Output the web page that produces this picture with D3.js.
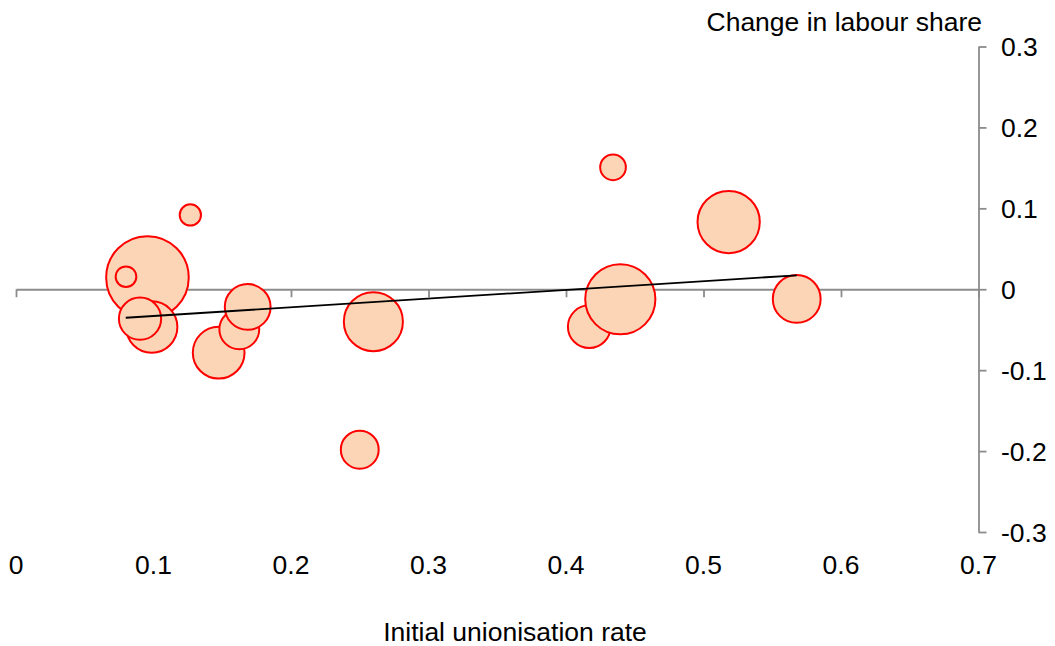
<!DOCTYPE html>
<html>
<head>
<meta charset="utf-8">
<script src="https://cdn.jsdelivr.net/npm/d3@7"></script>
<style>
  html, body { margin: 0; padding: 0; background: #fff; }
  svg { display: block; }
  text { font-family: "Liberation Sans", Arial, sans-serif; fill: #000; }
</style>
</head>
<body>
<svg id="chart" width="1055" height="646"></svg>
<script>
// Data (draw order matters for overlaps)
const unionRate   = [0.0956, 0.0800, 0.1268, 0.0987, 0.0902, 0.1474, 0.1624, 0.1685, 0.2500, 0.2599, 0.4169, 0.4395, 0.4342, 0.5183, 0.5678];
const labourShare = [0.0145, 0.0155, 0.0918, -0.0467, -0.0364, -0.0784, -0.0495, -0.0219, -0.1983, -0.0401, -0.0463, -0.0124, 0.1507, 0.0831, -0.0120];
const bubbleSize  = [17.6, 1.1, 1.17, 6.8, 4.6, 6.9, 4.1, 5.4, 3.7, 9.0, 4.7, 12.7, 1.7, 10.0, 5.9];
const trendX = [0.0798, 0.5678];
const trendY = [-0.0352, 0.0172];
const xTicks = [0, 0.1, 0.2, 0.3, 0.4, 0.5, 0.6, 0.7];
const xTickLabels = ["0", "0.1", "0.2", "0.3", "0.4", "0.5", "0.6", "0.7"];
const yTicks = [0.3, 0.2, 0.1, 0, -0.1, -0.2, -0.3];
const yTickLabels = ["0.3", "0.2", "0.1", "0", "-0.1", "-0.2", "-0.3"];
const xTitle = "Initial unionisation rate";
const yTitle = "Change in labour share";

const svg = d3.select("#chart");
const x = d3.scaleLinear().domain([0, 0.7]).range([16, 978.5]);
const y = d3.scaleLinear().domain([-0.3, 0.3]).range([532, 46.5]);
const r = d3.scaleSqrt().domain([0, 17.6]).range([0, 41.3]);
const axisColor = "#8c8c8c";
const fs = 26.5;

// X axis at y=0
const gx = svg.append("g").attr("transform", `translate(0,${y(0)})`)
  .call(d3.axisBottom(x).tickValues(xTicks).tickSize(8).tickSizeOuter(0).tickFormat(""));
gx.select(".domain").attr("stroke", axisColor).attr("stroke-width", 1.8);
gx.selectAll(".tick line").attr("stroke", axisColor).attr("stroke-width", 1.8);

// Y axis at x=0.7
const gy = svg.append("g").attr("transform", `translate(${x(0.7)},0)`)
  .call(d3.axisRight(y).tickValues(yTicks).tickSize(8).tickSizeOuter(0).tickFormat(""));
gy.select(".domain").attr("stroke", axisColor).attr("stroke-width", 1.8);
gy.selectAll(".tick line").attr("stroke", axisColor).attr("stroke-width", 1.8);

// Tick labels
svg.append("g").selectAll("text").data(xTicks).join("text")
  .attr("x", d => x(d)).attr("y", 574)
  .attr("text-anchor", "middle").attr("font-size", fs)
  .text((d, i) => xTickLabels[i]);
svg.append("g").selectAll("text").data(yTicks).join("text")
  .attr("x", 1001).attr("y", d => y(d) + 9.5)
  .attr("text-anchor", "start").attr("font-size", fs)
  .text((d, i) => yTickLabels[i]);

// Bubbles
const pts = unionRate.map((v, i) => ({ x: v, y: labourShare[i], s: bubbleSize[i] }));
svg.append("g").selectAll("circle").data(pts).join("circle")
  .attr("cx", d => x(d.x)).attr("cy", d => y(d.y)).attr("r", d => r(d.s))
  .attr("fill", "#fbd5b5").attr("stroke", "#ff0000").attr("stroke-width", 2);

// Trend line
svg.append("line")
  .attr("x1", x(trendX[0])).attr("y1", y(trendY[0]))
  .attr("x2", x(trendX[1])).attr("y2", y(trendY[1]))
  .attr("stroke", "#000").attr("stroke-width", 1.8);

// Titles
svg.append("text").attr("x", 982).attr("y", 31).attr("text-anchor", "end")
  .attr("font-size", fs).text(yTitle);
svg.append("text").attr("x", 515).attr("y", 641).attr("text-anchor", "middle")
  .attr("font-size", fs).text(xTitle);
</script>
</body>
</html>
